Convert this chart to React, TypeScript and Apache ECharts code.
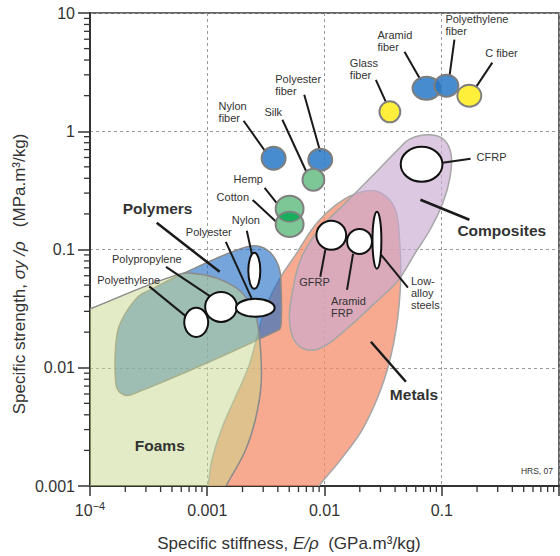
import React, { useEffect, useRef } from "react";
import * as echarts from "echarts";

const FONT = '"Liberation Sans", Arial, Helvetica, sans-serif';

// ---- axis tick labels (by decade exponent) ----
const xTickLabels = ["10^-4", "0.001", "0.01", "0.1", ""]; // exponents -4..0 (1 is cut off at the edge)
const yTickLabels = ["0.001", "0.01", "0.1", "1", "10"]; // exponents -3..1

// ---- material bubbles: specific stiffness E/rho (GPa.m3/kg), specific strength (MPa.m3/kg)
const materialNames = [
  "Nylon fiber", "Polyester fiber", "Silk", "Hemp", "Cotton",
  "Glass fiber", "Aramid fiber", "Polyethylene fiber", "C fiber",
  "CFRP", "GFRP", "Aramid FRP", "Low-alloy steels",
  "Polyethylene", "Polypropylene", "Polyester", "Nylon",
];
const materialLabels = [
  "Nylon\nfiber", "Polyester\nfiber", "Silk", "Hemp", "Cotton",
  "Glass\nfiber", "Aramid\nfiber", "Polyethylene\nfiber", "C fiber",
  "CFRP", "GFRP", "Aramid\nFRP", "Low-\nalloy\nsteels",
  "Polyethylene", "Polypropylene", "Polyester", "Nylon",
];
const materialE = [
  0.00368, 0.0092, 0.00804, 0.00504, 0.00504,
  0.0361, 0.0741, 0.1096, 0.1718,
  0.0673, 0.01143, 0.0199, 0.028,
  0.000805, 0.00131, 0.00257, 0.00252,
];
const materialS = [
  0.591, 0.574, 0.389, 0.221, 0.163,
  1.46, 2.31, 2.43, 2.0,
  0.526, 0.132, 0.117, 0.12,
  0.0242, 0.0327, 0.0321, 0.0661,
];
// half-widths of each bubble, in decades
const materialSpanE = [
  0.102, 0.102, 0.093, 0.119, 0.119,
  0.089, 0.119, 0.102, 0.102,
  0.178, 0.127, 0.106, 0.038,
  0.102, 0.135, 0.165, 0.051,
];
const materialSpanS = [
  0.097, 0.093, 0.093, 0.11, 0.106,
  0.089, 0.097, 0.093, 0.093,
  0.148, 0.123, 0.106, 0.241,
  0.123, 0.127, 0.076, 0.152,
];
const materialKind = [
  "blue", "blue", "green", "green", "green",
  "yellow", "blue", "blue", "yellow",
  "white", "white", "white", "white",
  "white", "white", "white", "white",
];

// ---- family envelopes, outlines as [log10(E/rho), log10(sigma/rho)] ----
const metalsOutline: [number, number][] = [
  [-3.07, -3.25], [-3.0, -3.03], [-2.96, -2.78], [-2.87, -2.5], [-2.76, -2.25],
  [-2.65, -2.0], [-2.58, -1.76], [-2.51, -1.51], [-2.39, -1.26], [-2.25, -1.05],
  [-2.06, -0.77], [-1.84, -0.58], [-1.63, -0.503], [-1.48, -0.546], [-1.39, -0.681],
  [-1.36, -0.918], [-1.35, -1.256], [-1.39, -1.68], [-1.49, -2.1], [-1.67, -2.51],
  [-1.88, -2.8], [-2.07, -3.03], [-2.18, -3.25],
];
const compositesOutline: [number, number][] = [
  [-1.27, -0.064], [-1.1, -0.03], [-0.98, -0.072], [-0.92, -0.198], [-0.93, -0.393],
  [-0.99, -0.605], [-1.1, -0.833], [-1.22, -1.02], [-1.375, -1.265], [-1.587, -1.468],
  [-1.8, -1.662], [-2.01, -1.823], [-2.15, -1.848], [-2.26, -1.764], [-2.3, -1.578],
  [-2.27, -1.341], [-2.22, -1.129], [-2.14, -0.96], [-2.01, -0.791], [-1.82, -0.605],
  [-1.54, -0.325], [-1.375, -0.156],
];
const polymersOutline: [number, number][] = [
  [-3.78, -1.806], [-3.74, -1.62], [-3.59, -1.4], [-3.45, -1.324], [-3.23, -1.214],
  [-2.66, -0.977], [-2.49, -1.003], [-2.39, -1.146], [-2.37, -1.341], [-2.37, -1.62],
  [-2.39, -1.679], [-3.65, -2.229], [-3.74, -2.212], [-3.78, -2.128],
];
const foamsOutline: [number, number][] = [
  [-4.51, -1.705], [-4.02, -1.51], [-3.23, -1.206], [-3.03, -1.214], [-2.83, -1.28],
  [-2.69, -1.38], [-2.59, -1.55], [-2.55, -1.79], [-2.54, -2.13], [-2.59, -2.44],
  [-2.68, -2.71], [-2.84, -3.0], [-2.97, -3.25], [-4.51, -3.25],
];

// ---- family labels (anchor = top-left of text) ----
const groupNames = ["Polymers", "Composites", "Metals", "Foams"];
const groupE = [0.00019, 0.136, 0.0361, 0.000241];
const groupS = [0.248, 0.162, 0.00664, 0.00245];

export default function App() {
  const ref = useRef<HTMLDivElement>(null);

  useEffect(() => {
    if (!ref.current) return;
    const chart = echarts.init(ref.current, null, { renderer: "svg" });

    const envelopeStyles = [
      { pts: metalsOutline, fill: "rgba(246,142,108,0.75)", stroke: "#a6a6a6" },
      { pts: compositesOutline, fill: "rgba(201,171,209,0.65)", stroke: "#a6a6a6" },
      { pts: polymersOutline, fill: "rgba(27,105,197,0.6)", stroke: "#8a8a8a" },
      { pts: foamsOutline, fill: "rgba(197,215,139,0.5)", stroke: "#8a8a8a" },
    ];

    const bubbleStyles: Record<string, { fill: string; stroke: string }> = {
      blue: { fill: "rgba(40,120,200,0.85)", stroke: "#7d7d7d" },
      green: { fill: "#7cc795", stroke: "#808080" },
      yellow: { fill: "#ffee3a", stroke: "#808080" },
      white: { fill: "#ffffff", stroke: "#111111" },
    };

    // label layout relative to bubble centre: text dx,dy ; leader line x1,y1,x2,y2
    const labelLayout: number[][] = [
      [-55, -56.5, -30, -37.5, -8, -6.5],
      [-45, -85, -16, -65, 0, -8],
      [-49, -72, -31, -60, -7, -8],
      [-56, -34, -25, -21, -13, -6],
      [-73, -31.5, -37, -24.5, -11, -0.5],
      [-40, -53, -14, -32, -4, -10],
      [-49, -57.5, -22, -36.5, -6, -8.5],
      [-1, -71, 8, -46, 3, -9],
      [16, -47, 23, -33, 7, -9],
      [55, -11.5, 21, -1.5, 49, -5.5],
      [-32, 42.5, -11, 41.5, -6, 14.5],
      [-28.5, 55.5, -12.5, 48.5, -6.5, 12.5],
      [34, 36.5, 31, 47.5, 4, 14.5],
      [-99, -46.5, -47, -36, -9, -5],
      [-109, -52, -55, -40, -10, -10],
      [-69.5, -80, -29.5, -66, -3, -8],
      [-22.5, -55, -7.5, -40, -2.5, -17],
    ];
    const groupLines: (number[] | null)[] = [
      [34, 20, 97, 69],
      [-37, -25, 12, -5],
      [-19, -47, 16, -7],
      null,
    ];

    const bubbleGeom = (api: any, i: number) => {
      const c = api.coord([materialE[i], materialS[i]]);
      const pr = api.coord([materialE[i] * Math.pow(10, materialSpanE[i]), materialS[i]]);
      const pt = api.coord([materialE[i], materialS[i] * Math.pow(10, materialSpanS[i])]);
      return { cx: c[0], cy: c[1], rx: pr[0] - c[0], ry: c[1] - pt[1] };
    };

    const minorX: number[][] = [];
    for (let e = -4; e < 0; e++) for (let m = 2; m <= 9; m++) minorX.push([m * Math.pow(10, e), 0.001]);
    const minorY: number[][] = [];
    for (let e = -3; e < 1; e++) for (let m = 2; m <= 9; m++) minorY.push([0.0001, m * Math.pow(10, e)]);

    const option: any = {
      animation: false,
      backgroundColor: "#ffffff",
      grid: {
        left: 90, right: 0, top: 13, bottom: 70,
        show: true, borderColor: "#333", borderWidth: 1.5, backgroundColor: "transparent",
      },
      xAxis: {
        type: "log", logBase: 10, min: 0.0001, max: 1, splitNumber: 4,
        axisLine: { lineStyle: { color: "#333", width: 2 } },
        axisTick: { length: 10, lineStyle: { color: "#333", width: 1.5 } },
        axisLabel: {
          margin: 14, color: "#333", fontSize: 16, fontFamily: FONT, lineHeight: 20,
          formatter: (v: number) => {
            const e = Math.round(Math.log10(v));
            if (e === -4) return "{b|10}{s|−4}";
            return xTickLabels[e + 4] || "";
          },
          rich: {
            b: { fontSize: 16, fontFamily: FONT, color: "#333", lineHeight: 20 },
            s: { fontSize: 11, fontFamily: FONT, color: "#333", lineHeight: 11, verticalAlign: "top" },
          },
        },
        splitLine: { show: true, lineStyle: { color: "#9a9a9a", type: [3, 3], width: 1 } },
      },
      yAxis: {
        type: "log", logBase: 10, min: 0.001, max: 10, splitNumber: 4,
        axisLine: { lineStyle: { color: "#333", width: 2 } },
        axisTick: { length: 12, lineStyle: { color: "#333", width: 1.5 } },
        axisLabel: {
          margin: 15, color: "#333", fontSize: 16, fontFamily: FONT,
          formatter: (v: number) => yTickLabels[Math.round(Math.log10(v)) + 3],
        },
        splitLine: { show: true, lineStyle: { color: "#9a9a9a", type: [3, 3], width: 1 } },
      },
      graphic: [
        {
          type: "text", x: 19, y: 274, rotation: Math.PI / 2,
          style: {
            text: "{n|Specific strength, }{i|σy /ρ}{n|   (MPa.m³/kg)}",
            align: "center", verticalAlign: "middle",
            rich: {
              n: { fontSize: 17, fontFamily: FONT, fill: "#333" },
              i: { fontSize: 17, fontFamily: FONT, fontStyle: "italic", fill: "#333" },
            },
          },
        },
        {
          type: "text", x: 289, y: 543,
          style: {
            text: "{n|Specific stiffness, }{i|E/ρ}{n|  (GPa.m³/kg)}",
            align: "center", verticalAlign: "middle",
            rich: {
              n: { fontSize: 17, fontFamily: FONT, fill: "#333" },
              i: { fontSize: 17, fontFamily: FONT, fontStyle: "italic", fill: "#333" },
            },
          },
        },
        {
          type: "text", x: 553, y: 471,
          style: {
            text: "HRS, 07", fontSize: 8.5, fontFamily: FONT, fill: "#333",
            align: "right", verticalAlign: "middle",
          },
        },
      ],
      series: [
        {
          type: "custom", name: "envelopes", clip: true, silent: true, z: 2,
          data: envelopeStyles.map(() => [0.001, 0.01]),
          renderItem: (params: any, api: any) => {
            const env = envelopeStyles[params.dataIndex];
            const points = env.pts.map(([lx, ly]) => api.coord([Math.pow(10, lx), Math.pow(10, ly)]));
            return {
              type: "polygon",
              shape: { points, smooth: 0.35 },
              style: { fill: env.fill, stroke: env.stroke, lineWidth: 1.5 },
            };
          },
        },
        {
          type: "custom", name: "groups", clip: false, silent: true, z: 3,
          data: groupNames.map((_, i) => [groupE[i], groupS[i]]),
          renderItem: (params: any, api: any) => {
            const i = params.dataIndex;
            const c = api.coord([groupE[i], groupS[i]]);
            const children: any[] = [];
            const ln = groupLines[i];
            if (ln) {
              children.push({
                type: "line",
                shape: { x1: c[0] + ln[0], y1: c[1] + ln[1], x2: c[0] + ln[2], y2: c[1] + ln[3] },
                style: { stroke: "#1a1a1a", lineWidth: 2.5 },
              });
            }
            children.push({
              type: "text", x: c[0], y: c[1] - 2,
              style: {
                text: groupNames[i], fontSize: 15.5, fontWeight: "bold", fontFamily: FONT,
                fill: "#333", align: "left", verticalAlign: "top",
              },
            });
            return { type: "group", children };
          },
        },
        {
          type: "custom", name: "materials", clip: false, silent: true, z: 4,
          data: materialNames.map((_, i) => [materialE[i], materialS[i]]),
          renderItem: (params: any, api: any) => {
            const i = params.dataIndex;
            const g = bubbleGeom(api, i);
            const st = bubbleStyles[materialKind[i]];
            const L = labelLayout[i];
            const children: any[] = [
              {
                type: "line",
                shape: { x1: g.cx + L[2], y1: g.cy + L[3], x2: g.cx + L[4], y2: g.cy + L[5] },
                style: { stroke: "#1a1a1a", lineWidth: 2 },
              },
              {
                type: "ellipse",
                shape: { cx: g.cx, cy: g.cy, rx: g.rx, ry: g.ry },
                style: { fill: st.fill, stroke: st.stroke, lineWidth: 2 },
              },
            ];
            if (materialNames[i] === "Cotton") {
              const h = bubbleGeom(api, materialNames.indexOf("Hemp"));
              const pts: number[][] = [];
              const N = 90;
              for (let k = 0; k < N; k++) {
                const a = (2 * Math.PI * k) / N;
                const hx = h.cx + h.rx * Math.cos(a), hy = h.cy + h.ry * Math.sin(a);
                if (((hx - g.cx) / g.rx) ** 2 + ((hy - g.cy) / g.ry) ** 2 <= 1) pts.push([hx, hy]);
                const cx2 = g.cx + g.rx * Math.cos(a), cy2 = g.cy + g.ry * Math.sin(a);
                if (((cx2 - h.cx) / h.rx) ** 2 + ((cy2 - h.cy) / h.ry) ** 2 <= 1) pts.push([cx2, cy2]);
              }
              if (pts.length > 2) {
                const mx = pts.reduce((s, p) => s + p[0], 0) / pts.length;
                const my = pts.reduce((s, p) => s + p[1], 0) / pts.length;
                pts.sort((p, q) => Math.atan2(p[1] - my, p[0] - mx) - Math.atan2(q[1] - my, q[0] - mx));
                children.push({
                  type: "polygon",
                  shape: { points: pts },
                  style: { fill: "#1aad5d", stroke: "#808080", lineWidth: 1.5 },
                });
              }
            }
            children.push({
              type: "text", x: g.cx + L[0], y: g.cy + L[1] - 1.5,
              style: {
                text: materialLabels[i], fontSize: 11, fontFamily: FONT, fill: "#333",
                align: "left", verticalAlign: "top", lineHeight: 12,
              },
            });
            return { type: "group", children };
          },
        },
        {
          type: "custom", name: "minorX", clip: false, silent: true, z: 5,
          data: minorX,
          renderItem: (_p: any, api: any) => {
            const c = api.coord([api.value(0), api.value(1)]);
            return {
              type: "line",
              shape: { x1: c[0], y1: c[1], x2: c[0], y2: c[1] + 6 },
              style: { stroke: "#333", lineWidth: 1.3 },
            };
          },
        },
        {
          type: "custom", name: "minorY", clip: false, silent: true, z: 5,
          data: minorY,
          renderItem: (_p: any, api: any) => {
            const c = api.coord([api.value(0), api.value(1)]);
            return {
              type: "line",
              shape: { x1: c[0] - 6, y1: c[1], x2: c[0], y2: c[1] },
              style: { stroke: "#333", lineWidth: 1.3 },
            };
          },
        },
      ],
    };

    chart.setOption(option);
    return () => chart.dispose();
  }, []);

  return (
    <div
      style={{
        position: "fixed", left: 0, top: 0, width: 560, height: 556,
        overflow: "hidden", background: "#ffffff",
      }}
    >
      <div ref={ref} style={{ width: 562, height: 556 }} />
    </div>
  );
}
